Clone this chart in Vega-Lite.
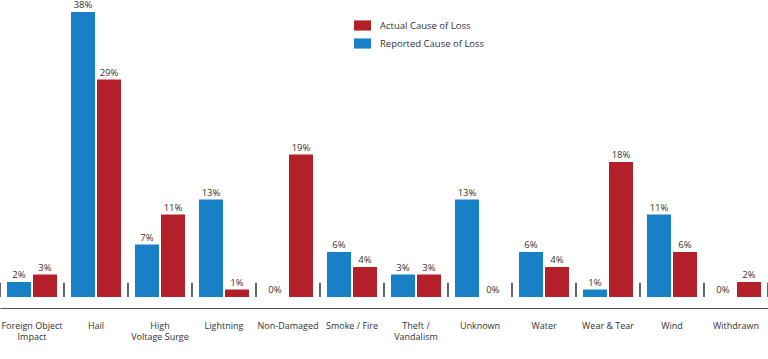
{
  "$schema": "https://vega.github.io/schema/vega-lite/v6.json",
  "width": 768,
  "height": 297,
  "autosize": {"type": "none"},
  "padding": {"left": 0, "top": 0, "right": 0, "bottom": 62},
  "background": "white",
  "config": {
    "view": {"stroke": null},
    "font": "Open Sans",
    "axis": {"labelFont": "Open Sans", "labelColor": "#333333"},
    "legend": {"labelFont": "Open Sans"}
  },
  "data": {
    "values": [
      {"category": "Foreign Object Impact", "series": "Reported Cause of Loss", "value": 0.02},
      {"category": "Foreign Object Impact", "series": "Actual Cause of Loss", "value": 0.03},
      {"category": "Hail", "series": "Reported Cause of Loss", "value": 0.38},
      {"category": "Hail", "series": "Actual Cause of Loss", "value": 0.29},
      {"category": "High Voltage Surge", "series": "Reported Cause of Loss", "value": 0.07},
      {"category": "High Voltage Surge", "series": "Actual Cause of Loss", "value": 0.11},
      {"category": "Lightning", "series": "Reported Cause of Loss", "value": 0.13},
      {"category": "Lightning", "series": "Actual Cause of Loss", "value": 0.01},
      {"category": "Non-Damaged", "series": "Reported Cause of Loss", "value": 0.0},
      {"category": "Non-Damaged", "series": "Actual Cause of Loss", "value": 0.19},
      {"category": "Smoke / Fire", "series": "Reported Cause of Loss", "value": 0.06},
      {"category": "Smoke / Fire", "series": "Actual Cause of Loss", "value": 0.04},
      {"category": "Theft / Vandalism", "series": "Reported Cause of Loss", "value": 0.03},
      {"category": "Theft / Vandalism", "series": "Actual Cause of Loss", "value": 0.03},
      {"category": "Unknown", "series": "Reported Cause of Loss", "value": 0.13},
      {"category": "Unknown", "series": "Actual Cause of Loss", "value": 0.0},
      {"category": "Water", "series": "Reported Cause of Loss", "value": 0.06},
      {"category": "Water", "series": "Actual Cause of Loss", "value": 0.04},
      {"category": "Wear & Tear", "series": "Reported Cause of Loss", "value": 0.01},
      {"category": "Wear & Tear", "series": "Actual Cause of Loss", "value": 0.18},
      {"category": "Wind", "series": "Reported Cause of Loss", "value": 0.11},
      {"category": "Wind", "series": "Actual Cause of Loss", "value": 0.06},
      {"category": "Withdrawn", "series": "Reported Cause of Loss", "value": 0.0},
      {"category": "Withdrawn", "series": "Actual Cause of Loss", "value": 0.02}
    ]
  },
  "encoding": {
    "x": {
      "field": "category",
      "type": "nominal",
      "sort": null,
      "scale": {"paddingInner": 0, "paddingOuter": 0},
      "axis": {
        "title": null,
        "offset": 11,
        "ticks": false,
        "tickSize": 0,
        "labelAngle": 0,
        "labelPadding": 13,
        "labelFontSize": 9,
        "labelLineHeight": 11.5,
        "labelBaseline": "top",
        "domainColor": "#555555",
        "domainWidth": 1.2,
        "labelExpr": "datum.value == 'Foreign Object Impact' ? ['Foreign Object', 'Impact'] : datum.value == 'High Voltage Surge' ? ['High', 'Voltage Surge'] : datum.value == 'Theft / Vandalism' ? ['Theft /', 'Vandalism'] : datum.value"
      }
    }
  },
  "layer": [
    {
      "mark": {"type": "bar"},
      "encoding": {
        "xOffset": {
          "field": "series",
          "type": "nominal",
          "scale": {"domain": ["Reported Cause of Loss", "Actual Cause of Loss"], "paddingInner": 0.077, "paddingOuter": 0.269}
        },
        "y": {
          "field": "value",
          "type": "quantitative",
          "scale": {"domain": [0, 0.396], "nice": false},
          "axis": null
        },
        "color": {
          "field": "series",
          "type": "nominal",
          "scale": {"domain": ["Actual Cause of Loss", "Reported Cause of Loss"], "range": ["#b4202a", "#1780c6"]},
          "legend": {
            "title": null,
            "orient": "none",
            "legendX": 354,
            "legendY": 17,
            "symbolType": "M-1,-0.6H1V0.6H-1Z",
            "symbolSize": 289,
            "symbolStrokeWidth": 0,
            "labelFontSize": 9.5,
            "labelColor": "#333333",
            "labelOffset": 9,
            "rowPadding": 4
          }
        }
      }
    },
    {
      "mark": {"type": "text", "baseline": "alphabetic", "dy": -4, "fontSize": 9.5, "color": "#333333"},
      "encoding": {
        "xOffset": {"field": "series", "type": "nominal"},
        "y": {"field": "value", "type": "quantitative"},
        "text": {"field": "value", "type": "quantitative", "format": ".0%"}
      }
    },
    {
      "transform": [{"filter": "datum.series == 'Actual Cause of Loss'"}],
      "mark": {"type": "rule", "color": "#333333", "strokeWidth": 1.5},
      "encoding": {
        "x": {"field": "category", "type": "nominal", "sort": null, "bandPosition": 0},
        "y": {"datum": 0},
        "y2": {"datum": 0.019}
      }
    },
    {
      "transform": [{"filter": "datum.series == 'Actual Cause of Loss' && datum.category == 'Withdrawn'"}],
      "mark": {"type": "rule", "color": "#333333", "strokeWidth": 1.5},
      "encoding": {
        "x": {"field": "category", "type": "nominal", "sort": null, "bandPosition": 1},
        "y": {"datum": 0},
        "y2": {"datum": 0.019}
      }
    }
  ]
}
